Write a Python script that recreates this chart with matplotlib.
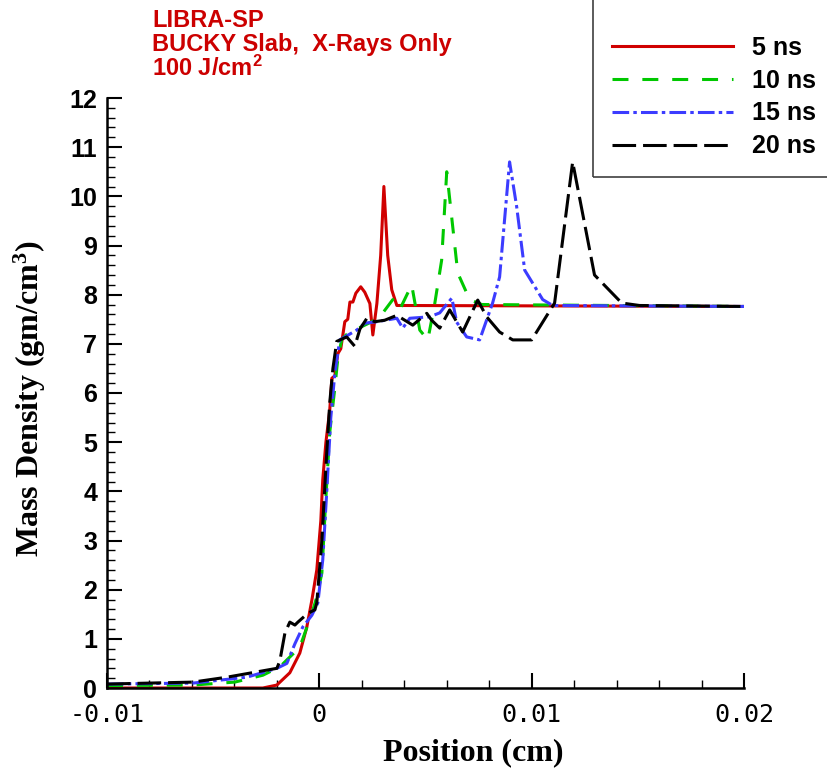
import numpy as np
import matplotlib
matplotlib.use("Agg")
import matplotlib.pyplot as plt
from matplotlib.patches import Rectangle
from matplotlib.ticker import MultipleLocator, FixedLocator

# Mass density profiles
x_5ns = [-0.0100, -0.00266, -0.00200, -0.00139, -0.00092, -0.00059, -0.00035, -0.00012,
         0.00007, 0.00016, 0.00031, 0.00049, 0.00059, 0.00073, 0.00087, 0.00101, 0.00120,
         0.00134, 0.00144, 0.00158, 0.00172, 0.00195, 0.00214, 0.00238, 0.00252, 0.00271,
         0.00289, 0.00304, 0.00322, 0.00341, 0.00365, 0.0200]
rho_5ns = [0.0, 0.0, 0.06, 0.31, 0.71, 1.24, 1.79, 2.4,
           3.4, 4.23, 5.0, 5.65, 6.3, 6.35, 6.8, 6.9, 7.45,
           7.5, 7.85, 7.85, 8.03, 8.16, 8.05, 7.82, 7.18, 7.82,
           8.8, 10.2, 8.8, 8.1, 7.78, 7.76]

x_10ns = [-0.0100, -0.00595, -0.00398, -0.00266, -0.00186, -0.00139, -0.00092, -0.00068,
          -0.00035, -0.00012, 0.00012, 0.00030, 0.00049, 0.00073, 0.00087, 0.00106, 0.00144,
          0.00200, 0.00247, 0.00294, 0.00346, 0.00379, 0.00435, 0.00473, 0.00511, 0.00544,
          0.00576, 0.00600, 0.00652, 0.00708, 0.00765, 0.0200]
rho_10ns = [0.05, 0.06, 0.12, 0.26, 0.43, 0.63, 0.83, 1.12,
            1.52, 1.85, 2.34, 3.8, 5.2, 6.1, 6.7, 7.1, 7.25,
            7.35, 7.45, 7.6, 7.9, 7.7, 8.2, 7.28, 7.08, 7.83,
            8.7, 10.5, 8.44, 7.9, 7.8, 7.76]

x_15ns = [-0.0100, -0.00595, -0.00341, -0.00200, -0.00153, -0.00115, -0.00078, -0.00035,
          -0.00007, 0.00016, 0.00035, 0.00054, 0.00073, 0.00096, 0.00176, 0.00214, 0.00271,
          0.00365, 0.00393, 0.00426, 0.00520, 0.00567, 0.00624, 0.00647, 0.00694, 0.00755,
          0.00816, 0.00849, 0.00896, 0.00929, 0.00967, 0.01052, 0.01099, 0.0200]
rho_15ns = [0.08, 0.1, 0.22, 0.4, 0.5, 0.9, 1.24, 1.48,
            1.73, 2.6, 4.0, 5.5, 6.4, 7.08, 7.28, 7.42, 7.45,
            7.52, 7.32, 7.52, 7.55, 7.63, 7.93, 7.44, 7.14, 7.08,
            7.83, 8.36, 10.7, 9.8, 8.5, 7.9, 7.78, 7.76]

x_20ns = [-0.0100, -0.00595, -0.00435, -0.00200, -0.00186, -0.00162, -0.00139, -0.00115,
          -0.00101, -0.00054, -0.00021, -0.00012, 0.00012, 0.00031, 0.00049, 0.00064, 0.00082,
          0.00129, 0.00167, 0.00191, 0.00224, 0.00261, 0.00308, 0.00365, 0.00440, 0.00506,
          0.00529, 0.00567, 0.00614, 0.00675, 0.00746, 0.00788, 0.00849, 0.00911, 0.01000,
          0.01108, 0.01193, 0.01296, 0.01424, 0.01508, 0.0200]
rho_20ns = [0.08, 0.12, 0.22, 0.4, 0.55, 1.12, 1.34, 1.28,
            1.34, 1.52, 1.59, 1.73, 3.0, 4.5, 5.8, 6.5, 7.05,
            7.14, 6.95, 7.3, 7.52, 7.45, 7.48, 7.58, 7.38, 7.62,
            7.48, 7.32, 7.69, 7.24, 7.89, 7.55, 7.24, 7.08, 7.08,
            7.83, 10.7, 8.4, 7.83, 7.78, 7.76]

labels = ["5 ns", "10 ns", "15 ns", "20 ns"]
x_ticks = [-0.01, 0.0, 0.01, 0.02]
x_ticklabels = ["-0.01", "0", "0.01", "0.02"]

plt.rcParams['lines.scale_dashes'] = False

fig = plt.figure(figsize=(8.28, 7.69), dpi=100)
ax = fig.add_axes([107 / 828, 1 - 688 / 769, 637 / 828, 590 / 769])

ax.plot(x_5ns, rho_5ns, color='#d00000', lw=2.2, ls='-', label=labels[0])
ax.plot(x_10ns, rho_10ns, color='#00c800', lw=2.2, ls=(0, (11.5, 10)), label=labels[1])
ax.plot(x_15ns, rho_15ns, color='#3c3cff', lw=2.2, ls=(0, (12, 3, 2.5, 3)), label=labels[2])
ax.plot(x_20ns, rho_20ns, color='black', lw=2.2, ls=(0, (17, 5)), label=labels[3])

ax.set_xlim(-0.01, 0.02)
ax.set_ylim(0, 12)

ax.spines['top'].set_visible(False)
ax.spines['right'].set_visible(False)
ax.spines['left'].set_linewidth(1.8)
ax.spines['bottom'].set_linewidth(1.8)

ax.xaxis.set_major_locator(FixedLocator(x_ticks))
ax.set_xticklabels(x_ticklabels, family='DejaVu Sans Mono', fontsize=18)
ax.xaxis.set_minor_locator(MultipleLocator(0.002))
ax.yaxis.set_major_locator(MultipleLocator(1))
ax.yaxis.set_minor_locator(MultipleLocator(0.2))
for t in ax.get_yticklabels():
    t.set_family('Liberation Sans')
    t.set_fontweight('bold')
    t.set_fontsize(18)

ax.tick_params(which='major', direction='in', length=11, width=1.5)
ax.tick_params(which='minor', direction='in', length=5.5, width=1)
ax.tick_params(axis='x', which='major', pad=11)
ax.tick_params(axis='y', which='major', pad=7)

ax.set_xlabel('Position (cm)', family='Liberation Serif', fontweight='bold', fontsize=23)
ax.xaxis.set_label_coords(0.575, -0.085)
ax.set_ylabel(r'Mass Density (gm/cm$\mathregular{^3}$)', family='Liberation Serif',
              fontweight='bold', fontsize=23)
ax.yaxis.set_label_coords(-0.092, 0.49)

# legend box (partly cut off by the figure edge, as in the reference)
fig.patches.append(Rectangle((593 / 828, 1 - 177 / 769), 0.4, 0.4, transform=fig.transFigure,
                             fill=False, edgecolor='#404040', lw=1.2))
ax.legend(loc='upper left', bbox_to_anchor=(612 / 828, 1 - 36 / 769), bbox_transform=fig.transFigure,
          frameon=False, handlelength=4.85, handletextpad=0.75, labelspacing=0.35,
          borderpad=0, borderaxespad=0,
          prop={'family': 'Liberation Sans', 'weight': 'bold', 'size': 18})

red = '#cc0000'
fig.text(152 / 828, 1 - 27 / 769, 'LIBRA-SP', color=red, family='Liberation Sans',
         fontweight='bold', fontsize=17, va='baseline')
fig.text(152 / 828, 1 - 51 / 769, 'BUCKY Slab,  X-Rays Only', color=red, family='Liberation Sans',
         fontweight='bold', fontsize=17, va='baseline')
fig.text(152 / 828, 1 - 76 / 769, r'100 J/cm$\mathregular{^2}$', color=red, family='Liberation Sans',
         fontweight='bold', fontsize=17, va='baseline')

fig.savefig('out.png', dpi=100)
